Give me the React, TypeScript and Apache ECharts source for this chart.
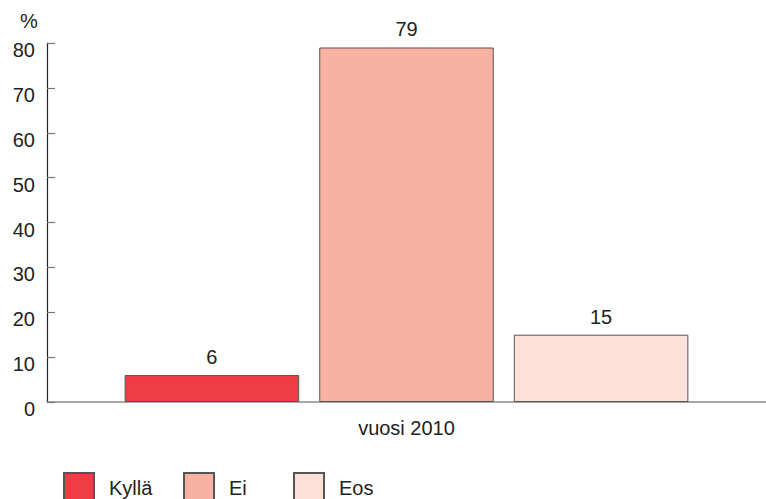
import React, { useEffect, useRef } from "react";
import * as echarts from "echarts";

const categories = ["vuosi 2010"];
const seriesNames = ["Kyllä", "Ei", "Eos"];
const seriesValues = [[6], [79], [15]];
const seriesColors = ["#EE3E44", "#F8B2A3", "#FDE0D7"];
const legendLefts = [63, 183, 293];
const yMin = 0;
const yMax = 80;
const yInterval = 10;

const FONT = "Liberation Sans, Arial, sans-serif";

export default function App() {
  const ref = useRef<HTMLDivElement>(null);
  useEffect(() => {
    if (!ref.current) return;
    const chart = echarts.init(ref.current, undefined, { renderer: "svg" });
    chart.setOption({
      animation: false,
      textStyle: { fontFamily: FONT },
      grid: { left: 47, right: 0, top: 43, bottom: 97 },
      xAxis: {
        type: "category",
        data: categories,
        axisLine: { lineStyle: { color: "#8a8a8a", width: 1.5 } },
        axisTick: { show: false },
        axisLabel: { color: "#222", fontSize: 20, margin: 16, fontFamily: FONT },
      },
      yAxis: {
        type: "value",
        min: yMin,
        max: yMax,
        interval: yInterval,
        splitLine: { show: false },
        axisLine: { show: true, lineStyle: { color: "#222", width: 1.2 } },
        axisTick: { show: true, inside: true, length: 8, lineStyle: { color: "#777", width: 1.2 } },
        axisLabel: {
          color: "#222",
          fontSize: 20,
          margin: 12,
          verticalAlign: "top",
          lineHeight: 14,
          fontFamily: FONT,
        },
      },
      legend: seriesNames.map((n, i) => ({
        data: [n],
        left: legendLefts[i],
        top: 472,
        padding: 0,
        icon: "rect",
        itemWidth: 30,
        itemHeight: 30,
        selectedMode: false,
        textStyle: { fontSize: 20, color: "#222", padding: [0, 0, 0, 10], fontFamily: FONT },
      })),
      graphic: [
        {
          type: "text",
          x: 29,
          y: 21,
          style: {
            text: "%",
            fontSize: 20,
            fill: "#222",
            fontFamily: FONT,
            textAlign: "center",
            textVerticalAlign: "middle",
          },
        },
      ],
      series: seriesNames.map((n, i) => ({
        name: n,
        type: "bar",
        data: seriesValues[i],
        barGap: "11.5%",
        barCategoryGap: "21.6%",
        itemStyle: { color: seriesColors[i], borderColor: "#555", borderWidth: 1 },
        label: {
          show: true,
          position: "top",
          distance: 8,
          color: "#222",
          fontSize: 20,
          fontFamily: FONT,
        },
      })),
    });
    return () => chart.dispose();
  }, []);
  return <div ref={ref} style={{ width: 766, height: 499, position: "absolute", left: 0, top: 0 }} />;
}
